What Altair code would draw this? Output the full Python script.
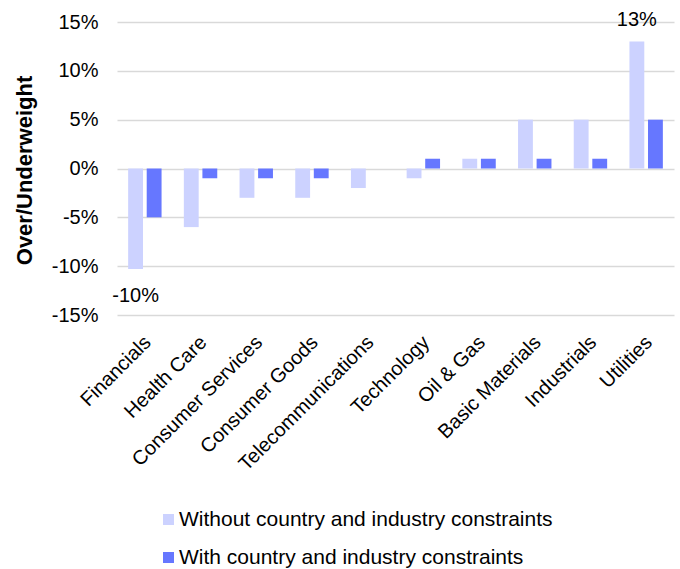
import altair as alt
import pandas as pd

# Sector over/underweights (percentage points)
sectors = ["Financials", "Health Care", "Consumer Services", "Consumer Goods",
           "Telecommunications", "Technology", "Oil & Gas", "Basic Materials",
           "Industrials", "Utilities"]
without_constraints = [-10.3, -6, -3, -3, -2, -1, 1, 5, 5, 13]
with_constraints = [-5, -1, -1, -1, 0, 1, 1, 1, 1, 5]
series_names = ["Without country and industry constraints",
                "With country and industry constraints"]
series_colors = ["#CCD2FF", "#6677FF"]
y_ticks = [-15, -10, -5, 0, 5, 10, 15]

rows = []
for i, s in enumerate(sectors):
    rows.append({"sector": s, "series": series_names[0], "value": without_constraints[i]})
    rows.append({"sector": s, "series": series_names[1], "value": with_constraints[i]})
df = pd.DataFrame(rows)

font = "Liberation Sans"

x_enc = alt.X("sector:N", sort=sectors, title=None,
              scale=alt.Scale(paddingInner=0.4, paddingOuter=0.2),
              axis=alt.Axis(labelAngle=-45, labelAlign="right", labelBaseline="middle",
                            labelFontSize=20, labelFont=font, labelColor="#000000",
                            labelPadding=24, labelOffset=3, labelLimit=300,
                            ticks=False, domain=False, grid=False))
xoff_enc = alt.XOffset("series:N", sort=series_names,
                       scale=alt.Scale(paddingInner=0.2, paddingOuter=0))
y_enc = alt.Y("value:Q", title="Over/Underweight",
              scale=alt.Scale(domain=[-15, 15], nice=False),
              axis=alt.Axis(values=y_ticks, labelExpr="datum.value + '%'",
                            labelFontSize=20, labelFont=font, labelColor="#000000",
                            labelPadding=19, ticks=False, domain=False,
                            grid=True, gridColor="#D9D9D9", gridWidth=1.5,
                            titleFontSize=22, titleFont=font, titleFontWeight="bold",
                            titleColor="#000000", titleX=-93, titleY=148,
                            titleAlign="center", titleBaseline="middle"))

bars = alt.Chart(df).mark_bar().encode(
    x=x_enc,
    xOffset=xoff_enc,
    y=y_enc,
    color=alt.Color("series:N", sort=series_names,
                    scale=alt.Scale(domain=series_names, range=series_colors),
                    legend=alt.Legend(title=None, orient="none", legendX=41, legendY=487,
                                      direction="vertical", symbolType="square",
                                      symbolSize=121, symbolStrokeWidth=0,
                                      labelFontSize=21, labelFont=font,
                                      labelColor="#000000", labelOffset=0,
                                      rowPadding=16, padding=0, labelLimit=600)),
)

# Value labels on the largest over- and underweight
top_label = alt.Chart(df).transform_filter(
    (alt.datum.sector == "Utilities") & (alt.datum.series == series_names[0])
).transform_calculate(
    lbl="round(datum.value) + '%'"
).mark_text(baseline="bottom", dy=-12, fontSize=20, font=font, color="#000000").encode(
    x=alt.X("sector:N", sort=sectors), xOffset=alt.XOffset("series:N", sort=series_names),
    y="value:Q", text="lbl:N")

bottom_label = alt.Chart(df).transform_filter(
    (alt.datum.sector == "Financials") & (alt.datum.series == series_names[0])
).transform_calculate(
    lbl="round(datum.value) + '%'"
).mark_text(baseline="top", dy=17, fontSize=20, font=font, color="#000000").encode(
    x=alt.X("sector:N", sort=sectors), xOffset=alt.XOffset("series:N", sort=series_names),
    y="value:Q", text="lbl:N")

chart = alt.layer(bars, top_label, bottom_label).properties(
    width=557, height=293,
    autosize=alt.AutoSizeParams(type="none"),
    padding={"left": 117, "top": 22, "right": 6, "bottom": 254},
).configure_view(stroke=None)

chart.save("out.html", embed_options={"renderer": "svg", "actions": False})
